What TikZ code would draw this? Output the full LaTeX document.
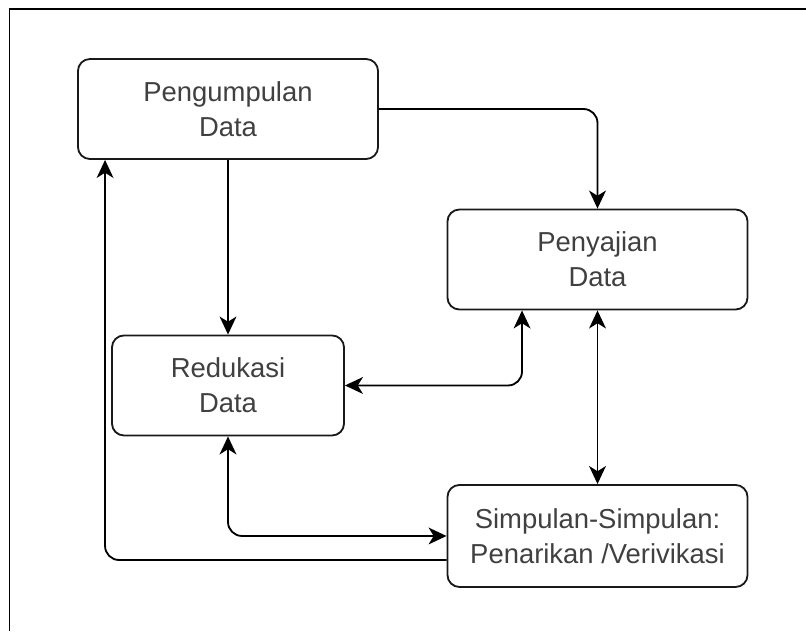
\documentclass[tikz,border=0pt]{standalone}
\usepackage{fontspec}
\setmainfont{Liberation Sans}
\usetikzlibrary{positioning,calc,arrows.meta}

\begin{document}
\begin{tikzpicture}[x=0.025cm,y=-0.025cm,
		kotak/.style={draw=black!90,line width=1.3pt,rounded corners=0.3cm,minimum width=7.5cm,minimum height=2.5cm,align=center,text=black!75,font=\fontsize{19.5}{25}\selectfont},
		garis/.style={line width=1.3pt,rounded corners=0.35cm},
		panah/.style={garis,-{Stealth[length=0.45cm,width=0.42cm,inset=0.13cm]}},
		dua/.style={garis,{Stealth[length=0.45cm,width=0.42cm,inset=0.13cm]}-{Stealth[length=0.45cm,width=0.42cm,inset=0.13cm]}}]
	\useasboundingbox (0,0) rectangle (806,631);
	\draw [line width=1.4pt] (9.5,631) -- (9.5,9) -- (806,9);
	\node [kotak] (peng) at (228,109) {Pengumpulan\\Data};
	\node [kotak,minimum width=5.8cm,below of=peng,node distance=6.91cm] (red) {Redukasi\\Data};
	\node [kotak] (peny) at (597.5,259.5) {Penyajian\\Data};
	\node [kotak,below of=peny,node distance=6.91cm,minimum height=2.55cm] (simp) {Simpulan-Simpulan:\\Penarikan /Verivikasi};
	\coordinate (pj) at ($(peny.south west)!.25!(peny.south east)$);
	\coordinate (sl) at ([yshift=-0.6cm]simp.west);
	\coordinate (pl) at ([xshift=0.7cm]peng.south west);
	\draw [panah] (peng.east) -| (peny.north);
	\draw [panah] (peng.south) -- (red.north);
	\draw [dua] (red.east) -| (pj);
	\draw [dua] (peny.south) -- (simp.north);
	\draw [dua] (red.south) |- (simp.west);
	\draw [panah] (sl) -| (pl);
\end{tikzpicture}
\end{document}
